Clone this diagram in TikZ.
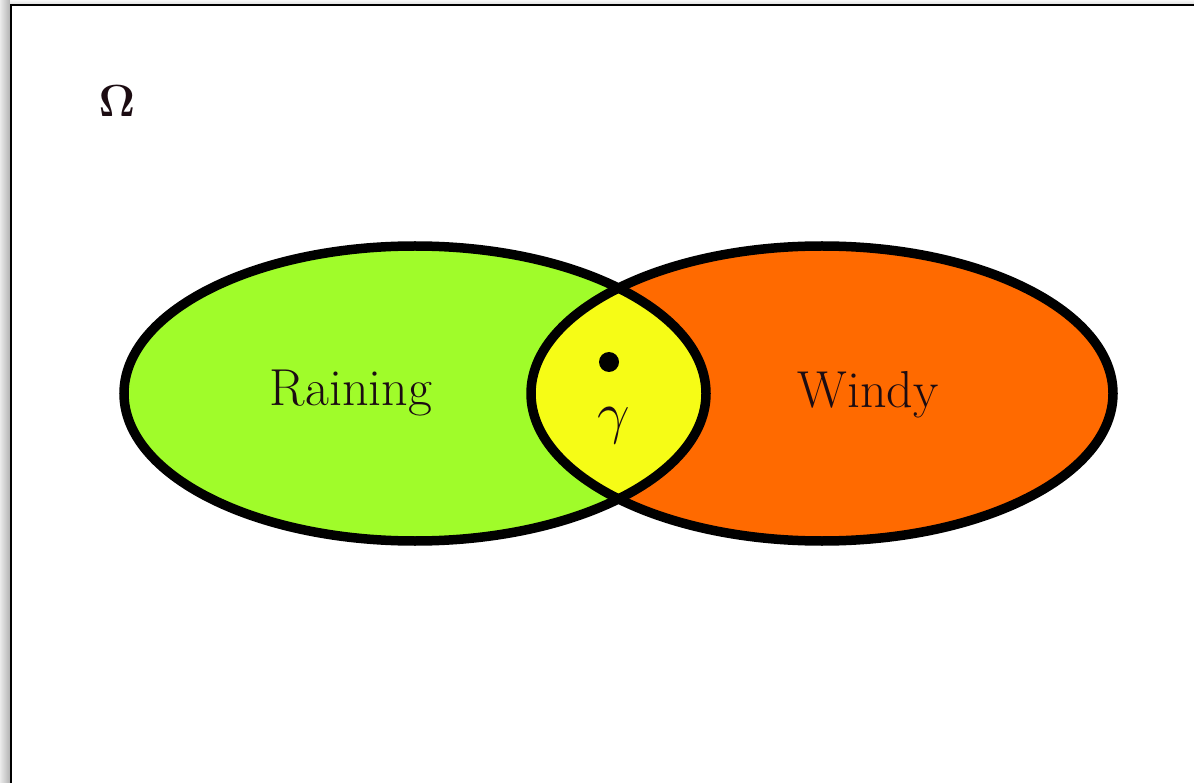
\documentclass[tikz,border=0pt]{standalone}
\usepackage{fix-cm}
\usepackage{amsmath,amssymb,bm}
\usetikzlibrary{positioning}
\definecolor{rainclr}{RGB}{160,252,42}
\definecolor{windclr}{RGB}{255,106,0}
\definecolor{bothclr}{RGB}{246,252,22}
\definecolor{inkclr}{RGB}{28,12,18}
\tikzset{
  setline/.style ={draw=black, line width=9.5pt},
  frameline/.style={draw=black, line width=2.2pt},
  lbl/.style     ={font=\fontsize{52}{62}\selectfont, text=inkclr, inner sep=0pt},
  gamlbl/.style  ={font=\fontsize{58}{68}\selectfont, text=inkclr, inner sep=0pt},
  omega/.style   ={font=\fontsize{45}{54}\selectfont, text=inkclr, inner sep=0pt},
}
\newcommand{\rainset}{(415,393.5) ellipse [x radius=291, y radius=147.5]}
\newcommand{\windset}{(822,393.5) ellipse [x radius=291, y radius=147.5]}

\begin{document}
\begin{tikzpicture}[x=1pt, y=-1pt]
  \useasboundingbox (0,0) rectangle (1194,783);

  % ---- sample space frame --------------------------------------------
  \shade[left color=black!8, right color=black!30] (0,0) rectangle (10,783);
  \shade[top color=black!3, bottom color=black!14] (10,0) rectangle (1194,5);
  \fill[white] (11,6) rectangle (1194,783);
  \draw[frameline] (11,800) -- (11,5) -- (1210,5);
  \node[omega] (omg) at (117,101) {$\bm{\Omega}$};

  % ---- the two events ------------------------------------------------
  \fill[rainclr] \rainset;
  \fill[windclr] \windset;
  \begin{scope}
    \clip \rainset;
    \fill[bothclr] \windset;
  \end{scope}
  \draw[setline] \rainset;
  \draw[setline] \windset;

  \node[lbl] (rain) at (351,393) {Raining};
  \node[lbl] (wind) at (868,395) {Windy};

  % ---- the outcome ---------------------------------------------------
  \node[circle, fill=black, minimum size=20pt, inner sep=0pt] (pt) at (609,362) {};
  \node[gamlbl] (gam) at (614,426) {$\gamma$};
\end{tikzpicture}
\end{document}
